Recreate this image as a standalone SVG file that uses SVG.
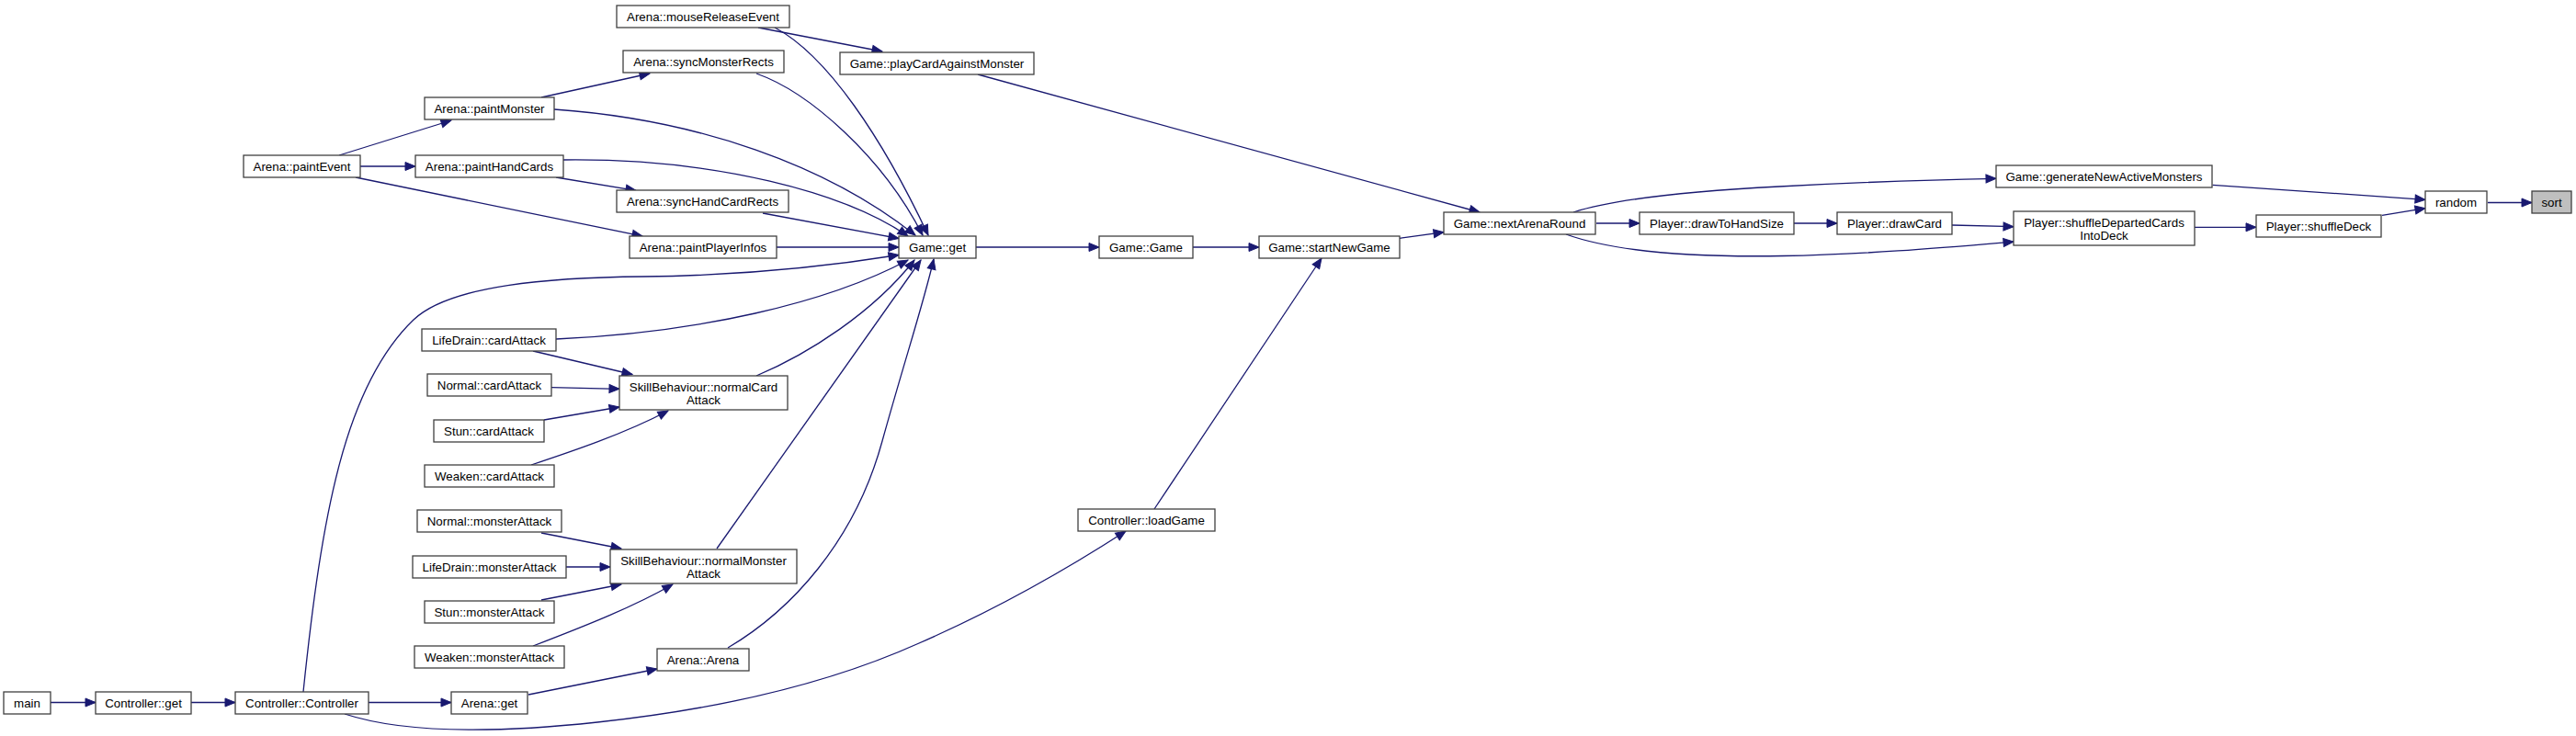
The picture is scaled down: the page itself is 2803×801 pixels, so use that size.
<svg xmlns="http://www.w3.org/2000/svg" width="2803" height="801" viewBox="0 0 2803 801">
<style>
.n rect{fill:#ffffff;stroke:#404040;stroke-width:1.3}
.n text{font-family:"Liberation Sans",Arial,sans-serif;font-size:13.33px;fill:#000000;text-anchor:middle}
#sort rect{fill:#bfbfbf}
#edges path{fill:none;stroke:#191970;stroke-width:1.3;marker-end:url(#ah)}
</style>
<defs>
<marker id="ah" markerUnits="userSpaceOnUse" markerWidth="13" markerHeight="11" refX="11" refY="5" orient="auto" overflow="visible">
<path d="M0,0.5 L11,5 L0,9.5 z" fill="#191970" stroke="#191970" stroke-width="1"/>
</marker>
</defs>
<rect width="2803" height="801" fill="#ffffff"/>
<g id="edges">
<path d="M2707,220.5 L2755,220.5"/>
<path d="M2407.6,201.3 L2639,217.3"/>
<path d="M2592,234.3 L2639,226.7"/>
<path d="M2388,247.3 L2455,247.3"/>
<path d="M2124,245 L2191,246.7"/>
<path d="M1704,255 C1760,275 1850,280 1940,278.5 C2030,277 2120,269 2191,263"/>
<path d="M1712,231 C1740,222 1800,210 1936,203 C2030,198 2110,195.5 2172,194.3"/>
<path d="M1952,243 L1999,243"/>
<path d="M1737,243 L1784,243"/>
<path d="M1523,259.3 L1571,252.7"/>
<path d="M1064,81 L1610,231"/>
<path d="M1298,269 L1370,269"/>
<path d="M1256,554 L1438,281"/>
<path d="M1062,269 L1196,269"/>
<path d="M825,30 L960,56"/>
<path d="M843,30 C900,60 960,150 1010,256"/>
<path d="M823,80 C880,100 960,170 1004,256"/>
<path d="M603,119 C760,130 900,180 996,256"/>
<path d="M613,174 C780,172 920,210 988,257"/>
<path d="M605,193 L692,207.3"/>
<path d="M369,169 L491,131"/>
<path d="M392,181 L452,181"/>
<path d="M387,193 L699,257"/>
<path d="M589,106 L707,80"/>
<path d="M830,232 L978,259.5"/>
<path d="M845,269 L978,269"/>
<path d="M330,753 C350,560 375,420 450,348 C490,310 600,302 700,301 C800,300 900,290 978,277.5"/>
<path d="M605,369 C760,362 900,330 988,283"/>
<path d="M580,382 L688,407.5"/>
<path d="M823,409 C880,385 950,340 995,283"/>
<path d="M600,421.7 L674,423.3"/>
<path d="M592,457 L674,443"/>
<path d="M578,506 C620,492 680,472 727,447"/>
<path d="M780,597 L1002,283"/>
<path d="M589,580 L676,597"/>
<path d="M616,617 L664,617"/>
<path d="M589,653 L676,636"/>
<path d="M580,703 C640,680 690,660 732,636"/>
<path d="M792,705 C860,665 930,590 960,480 C985,390 1005,330 1016,282"/>
<path d="M575,756 L715,728"/>
<path d="M401,764.5 L491,764.5"/>
<path d="M375,777 C430,795 520,800 650,786 C780,772 900,745 1000,700 C1080,665 1160,620 1225,578"/>
<path d="M55,764.5 L104,764.5"/>
<path d="M208,764.5 L256,764.5"/>
</g>
<g id="mouseReleaseEvent" class="n"><rect x="671" y="6" width="188" height="24"/><text x="765" y="23">Arena::mouseReleaseEvent</text></g>
<g id="syncMonsterRects" class="n"><rect x="678" y="55" width="175" height="24"/><text x="765.5" y="72">Arena::syncMonsterRects</text></g>
<g id="playCardAgainstMonster" class="n"><rect x="914" y="57" width="211" height="24"/><text x="1019.5" y="74">Game::playCardAgainstMonster</text></g>
<g id="paintMonster" class="n"><rect x="462" y="106" width="141" height="24"/><text x="532.5" y="123">Arena::paintMonster</text></g>
<g id="paintEvent" class="n"><rect x="265" y="169" width="127" height="24"/><text x="328.5" y="186">Arena::paintEvent</text></g>
<g id="paintHandCards" class="n"><rect x="452" y="169" width="161" height="24"/><text x="532.5" y="186">Arena::paintHandCards</text></g>
<g id="syncHandCardRects" class="n"><rect x="671" y="207" width="187" height="24"/><text x="764.5" y="224">Arena::syncHandCardRects</text></g>
<g id="paintPlayerInfos" class="n"><rect x="685" y="257" width="160" height="24"/><text x="765" y="274">Arena::paintPlayerInfos</text></g>
<g id="gameGet" class="n"><rect x="978" y="257" width="84" height="24"/><text x="1020" y="274">Game::get</text></g>
<g id="gameGame" class="n"><rect x="1196" y="257" width="102" height="24"/><text x="1247" y="274">Game::Game</text></g>
<g id="startNewGame" class="n"><rect x="1370" y="257" width="153" height="24"/><text x="1446.5" y="274">Game::startNewGame</text></g>
<g id="nextArenaRound" class="n"><rect x="1571" y="231" width="165" height="24"/><text x="1653.5" y="248">Game::nextArenaRound</text></g>
<g id="drawToHandSize" class="n"><rect x="1784" y="231" width="168" height="24"/><text x="1868" y="248">Player::drawToHandSize</text></g>
<g id="drawCard" class="n"><rect x="1999" y="231" width="125" height="24"/><text x="2061.5" y="248">Player::drawCard</text></g>
<g id="generateNewActiveMonsters" class="n"><rect x="2172" y="180" width="235" height="24"/><text x="2289.5" y="197">Game::generateNewActiveMonsters</text></g>
<g id="shuffleDepartedCardsIntoDeck" class="n"><rect x="2191" y="230" width="197" height="37"/><text x="2289.5" y="246.5">Player::shuffleDepartedCards</text><text x="2289.5" y="260.5">IntoDeck</text></g>
<g id="shuffleDeck" class="n"><rect x="2455" y="234" width="136" height="24"/><text x="2523" y="251">Player::shuffleDeck</text></g>
<g id="random" class="n"><rect x="2639" y="208" width="67" height="24"/><text x="2672.5" y="225">random</text></g>
<g id="sort" class="n"><rect x="2755" y="208" width="43" height="24"/><text x="2776.5" y="225">sort</text></g>
<g id="lifeDrainCardAttack" class="n"><rect x="459" y="358" width="146" height="24"/><text x="532" y="375">LifeDrain::cardAttack</text></g>
<g id="normalCardAttack" class="n"><rect x="674" y="409" width="183" height="37"/><text x="765.5" y="425.5">SkillBehaviour::normalCard</text><text x="765.5" y="439.5">Attack</text></g>
<g id="normalCardAttackN" class="n"><rect x="465" y="407" width="135" height="24"/><text x="532.5" y="424">Normal::cardAttack</text></g>
<g id="stunCardAttack" class="n"><rect x="472" y="457" width="120" height="24"/><text x="532" y="474">Stun::cardAttack</text></g>
<g id="weakenCardAttack" class="n"><rect x="462" y="506" width="141" height="24"/><text x="532.5" y="523">Weaken::cardAttack</text></g>
<g id="normalMonsterAttackN" class="n"><rect x="454" y="555" width="157" height="24"/><text x="532.5" y="572">Normal::monsterAttack</text></g>
<g id="lifeDrainMonsterAttack" class="n"><rect x="449" y="605" width="167" height="24"/><text x="532.5" y="622">LifeDrain::monsterAttack</text></g>
<g id="stunMonsterAttack" class="n"><rect x="462" y="654" width="141" height="24"/><text x="532.5" y="671">Stun::monsterAttack</text></g>
<g id="weakenMonsterAttack" class="n"><rect x="451" y="703" width="163" height="24"/><text x="532.5" y="720">Weaken::monsterAttack</text></g>
<g id="normalMonsterAttack" class="n"><rect x="664" y="598" width="203" height="37"/><text x="765.5" y="614.5">SkillBehaviour::normalMonster</text><text x="765.5" y="628.5">Attack</text></g>
<g id="arenaArena" class="n"><rect x="715" y="706" width="100" height="24"/><text x="765" y="723">Arena::Arena</text></g>
<g id="loadGame" class="n"><rect x="1173" y="554" width="149" height="24"/><text x="1247.5" y="571">Controller::loadGame</text></g>
<g id="main" class="n"><rect x="4" y="753" width="51" height="24"/><text x="29.5" y="770">main</text></g>
<g id="controllerGet" class="n"><rect x="104" y="753" width="104" height="24"/><text x="156" y="770">Controller::get</text></g>
<g id="controllerController" class="n"><rect x="256" y="753" width="145" height="24"/><text x="328.5" y="770">Controller::Controller</text></g>
<g id="arenaGet" class="n"><rect x="491" y="753" width="83" height="24"/><text x="532.5" y="770">Arena::get</text></g>
</svg>
